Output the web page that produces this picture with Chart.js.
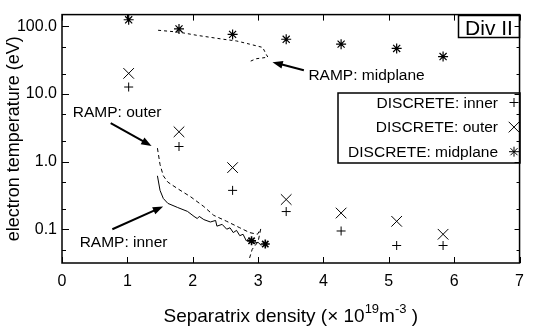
<!DOCTYPE html>
<html>
<head>
<meta charset="utf-8">
<script src="https://cdn.jsdelivr.net/npm/chart.js@4.4.1/dist/chart.umd.min.js"></script>
<style>
    html, body { margin: 0; padding: 0; background: #fff; }
    #wrap { width: 533px; height: 330px; }
</style>
</head>
<body>
<div id="wrap"><canvas id="chart" width="533" height="330"></canvas></div>
<script>
// axis ticks
const xTicks = [0, 1, 2, 3, 4, 5, 6, 7];
const yTicks = [0.1, 1, 10, 100];
const yMinorTicks = [0.05, 0.2, 0.5, 2, 5, 20, 50];

// discrete measurements
const discreteDensity = [1.02, 1.79, 2.61, 3.43, 4.27, 5.12, 5.83];
const discreteInner = [12.7, 1.68, 0.378, 0.184, 0.095, 0.058, 0.058];
const discreteOuter = [20.2, 2.77, 0.82, 0.277, 0.175, 0.132, 0.085];
const discreteMidplane = [125, 91.4, 76, 64.4, 54.6, 47.1, 35.8];

// end of the density ramp
const rampEndDensity = [2.90, 3.11];
const rampEndTe = [0.068, 0.061];

// density ramp traces
const rampInnerDensity = [1.46, 1.50, 1.55, 1.62, 1.77, 1.92, 2.02, 2.07, 2.10, 2.17, 2.27, 2.35, 2.37, 2.45, 2.52, 2.57, 2.62, 2.67, 2.72, 2.77, 2.82, 2.87, 2.92, 3.00, 3.05];
const rampInnerTe = [0.62, 0.378, 0.287, 0.243, 0.211, 0.185, 0.156, 0.145, 0.156, 0.140, 0.129, 0.136, 0.112, 0.119, 0.101, 0.106, 0.090, 0.097, 0.081, 0.085, 0.068, 0.075, 0.0625, 0.0646, 0.058];

const rampOuterDensity = [1.46, 1.50, 1.55, 1.62, 1.77, 1.97, 2.17, 2.32, 2.52, 2.72, 2.87, 2.99, 3.04, 3.00, 2.91, 2.87];
const rampOuterTe = [1.59, 0.91, 0.62, 0.50, 0.40, 0.303, 0.218, 0.162, 0.132, 0.106, 0.090, 0.085, 0.102, 0.066, 0.051, 0.038];

const rampMidDensity = [1.47, 1.79, 2.07, 2.47, 2.67, 2.87, 3.07, 3.12, 3.15, 2.97, 2.85];
const rampMidTe = [87.5, 82, 73.5, 64.4, 60.8, 54.6, 48.8, 39.2, 35.0, 33.2, 29.6];

const FONT = '"Liberation Sans", Arial, Helvetica, sans-serif';

function pts(xs, ys) {
    return xs.map((x, i) => ({ x: x, y: ys[i] }));
}

// annotation labels and arrows, anchored in data space
const notes = [
    { text: 'RAMP: outer', x: 0.165, y: 4.6, from: [0.745, 3.72], to: [1.37, 1.71] },
    { text: 'RAMP: inner', x: 0.27, y: 0.0547, from: [0.77, 0.1007], to: [1.547, 0.218] },
    { text: 'RAMP: midplane', x: 3.77, y: 16.2, from: [3.70, 22.5], to: [3.22, 29.6] }
];

function arrow(ctx, x1, y1, x2, y2) {
    const ang = Math.atan2(y2 - y1, x2 - x1);
    const head = 11;
    ctx.beginPath();
    ctx.moveTo(x1, y1);
    ctx.lineTo(x2 - Math.cos(ang) * head * 0.8, y2 - Math.sin(ang) * head * 0.8);
    ctx.lineWidth = 2;
    ctx.stroke();
    ctx.beginPath();
    ctx.moveTo(x2, y2);
    ctx.lineTo(x2 - head * Math.cos(ang - 0.36), y2 - head * Math.sin(ang - 0.36));
    ctx.lineTo(x2 - head * Math.cos(ang + 0.36), y2 - head * Math.sin(ang + 0.36));
    ctx.closePath();
    ctx.fill();
}

const framePlugin = {
    id: 'frame',
    afterDraw(chart) {
        const ctx = chart.ctx;
        const a = chart.chartArea;
        const xs = chart.scales.x;
        const ys = chart.scales.y;
        ctx.save();
        ctx.strokeStyle = '#000';
        ctx.fillStyle = '#000';
        ctx.setLineDash([]);

        // frame
        ctx.lineWidth = 1.5;
        ctx.strokeRect(a.left, a.top, a.right - a.left, a.bottom - a.top);

        // inward ticks
        ctx.lineWidth = 1;
        ctx.beginPath();
        xTicks.forEach(v => {
            const px = Math.round(xs.getPixelForValue(v)) + 0.5;
            ctx.moveTo(px, a.bottom); ctx.lineTo(px, a.bottom - 6);
            ctx.moveTo(px, a.top); ctx.lineTo(px, a.top + 6);
        });
        yTicks.forEach(v => {
            const py = Math.round(ys.getPixelForValue(v)) + 0.5;
            ctx.moveTo(a.left, py); ctx.lineTo(a.left + 7, py);
            ctx.moveTo(a.right, py); ctx.lineTo(a.right - 5, py);
        });
        yMinorTicks.forEach(v => {
            const py = Math.round(ys.getPixelForValue(v)) + 0.5;
            ctx.moveTo(a.left, py); ctx.lineTo(a.left + 4, py);
            ctx.moveTo(a.right, py); ctx.lineTo(a.right - 3, py);
        });
        ctx.stroke();

        // annotations
        ctx.font = '15.5px ' + FONT;
        ctx.textAlign = 'left';
        ctx.textBaseline = 'alphabetic';
        notes.forEach(n => {
            ctx.fillText(n.text, xs.getPixelForValue(n.x), ys.getPixelForValue(n.y));
            arrow(ctx,
                xs.getPixelForValue(n.from[0]), ys.getPixelForValue(n.from[1]),
                xs.getPixelForValue(n.to[0]), ys.getPixelForValue(n.to[1]));
        });

        // Div II box
        ctx.lineWidth = 1.5;
        ctx.strokeRect(458.5, 15.5, 61, 22);
        ctx.font = '21px ' + FONT;
        ctx.textAlign = 'center';
        ctx.fillText('Div II', 489, 35);

        // legend box
        ctx.strokeRect(338, 93, 182, 70);
        ctx.font = '15.5px ' + FONT;
        ctx.textAlign = 'right';
        const items = chart.data.datasets.filter(d => d.inLegend);
        items.forEach((d, i) => {
            const base = 107.5 + i * 24.6;
            ctx.fillText(d.label, 498, base);
            ctx.lineWidth = 1;
            Chart.helpers.drawPoint(ctx, {
                pointStyle: d.pointStyle, radius: d.pointRadius, borderWidth: 1, rotation: 0
            }, 514, base - 5);
        });

        // x axis title with superscripts
        const big = '19px ' + FONT;
        const small = '13px ' + FONT;
        const parts = [
            { t: 'Separatrix density (\u00d7 10', f: big, dy: 0 },
            { t: '19', f: small, dy: -9 },
            { t: 'm', f: big, dy: 0 },
            { t: '-3', f: small, dy: -9 },
            { t: ' )', f: big, dy: 0 }
        ];
        let total = 0;
        parts.forEach(p => { ctx.font = p.f; p.w = ctx.measureText(p.t).width; total += p.w; });
        let cx = (a.left + a.right) / 2 - total / 2;
        ctx.textAlign = 'left';
        parts.forEach(p => {
            ctx.font = p.f;
            ctx.fillText(p.t, cx, 322 + p.dy);
            cx += p.w;
        });
        ctx.restore();
    }
};

const ctx = document.getElementById('chart').getContext('2d');
new Chart(ctx, {
    type: 'scatter',
    data: {
        datasets: [
            {
                label: 'RAMP: inner',
                data: pts(rampInnerDensity, rampInnerTe),
                showLine: true, borderColor: '#000', borderWidth: 1,
                pointRadius: 0, tension: 0
            },
            {
                label: 'RAMP: outer',
                data: pts(rampOuterDensity, rampOuterTe),
                showLine: true, borderColor: '#000', borderWidth: 1, borderDash: [4, 3],
                pointRadius: 0, tension: 0
            },
            {
                label: 'RAMP: midplane',
                data: pts(rampMidDensity, rampMidTe),
                showLine: true, borderColor: '#000', borderWidth: 1, borderDash: [3, 3],
                pointRadius: 0, tension: 0
            },
            {
                label: 'DISCRETE: inner',
                data: pts(discreteDensity, discreteInner),
                pointStyle: 'cross', pointRadius: 4.5, borderColor: '#000', borderWidth: 1,
                inLegend: true
            },
            {
                label: 'DISCRETE: outer',
                data: pts(discreteDensity, discreteOuter),
                pointStyle: 'crossRot', pointRadius: 7.5, borderColor: '#000', borderWidth: 1,
                inLegend: true
            },
            {
                label: 'DISCRETE: midplane',
                data: pts(discreteDensity, discreteMidplane),
                pointStyle: 'star', pointRadius: 5, borderColor: '#000', borderWidth: 1.2,
                inLegend: true
            },
            {
                label: 'ramp end',
                data: pts(rampEndDensity, rampEndTe),
                pointStyle: 'star', pointRadius: 4.5, borderColor: '#000', borderWidth: 1.6
            }
        ]
    },
    options: {
        responsive: false,
        animation: false,
        devicePixelRatio: 1,
        layout: { padding: { left: 0, right: 5, top: 8, bottom: 0 } },
        plugins: {
            legend: { display: false },
            tooltip: { enabled: false }
        },
        scales: {
            x: {
                type: 'linear',
                min: 0, max: 7,
                afterBuildTicks: s => { s.ticks = xTicks.map(v => ({ value: v })); },
                afterFit: s => { s.height = 67; },
                grid: { display: false, drawTicks: false },
                border: { display: false },
                ticks: { color: '#000', padding: 9, font: { family: FONT, size: 16 } }
            },
            y: {
                type: 'logarithmic',
                min: 0.032, max: 149,
                afterBuildTicks: s => { s.ticks = yTicks.map(v => ({ value: v })); },
                afterFit: s => { s.width = 62; },
                grid: { display: false, drawTicks: false },
                border: { display: false },
                ticks: {
                    color: '#000', padding: 5, font: { family: FONT, size: 16 },
                    callback: v => Number(v).toFixed(1)
                },
                title: {
                    display: true, text: 'electron temperature (eV)', color: '#000',
                    font: { family: FONT, size: 18 }, padding: { top: 3, bottom: 0 }
                }
            }
        }
    },
    plugins: [framePlugin]
});
</script>
</body>
</html>
